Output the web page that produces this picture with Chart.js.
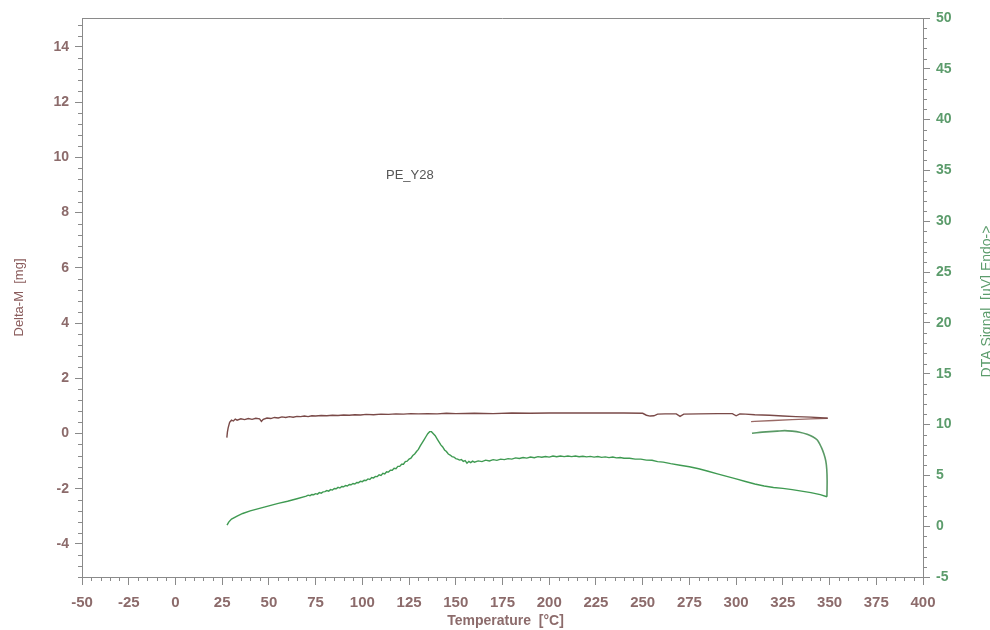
<!DOCTYPE html>
<html>
<head>
<meta charset="utf-8">
<script src="https://cdn.jsdelivr.net/npm/chart.js@4.4.1/dist/chart.umd.min.js"></script>
<style>
  html, body { margin: 0; padding: 0; background: #ffffff; }
  #wrap { width: 990px; height: 630px; position: relative; }
</style>
</head>
<body>
<div id="wrap"><canvas id="c" width="990" height="630"></canvas></div>
<script>
// ---------- DATA ----------
const xTickValues = [-50, -25, 0, 25, 50, 75, 100, 125, 150, 175, 200, 225, 250, 275, 300, 325, 350, 375, 400];
const leftTickValues = [-4, -2, 0, 2, 4, 6, 8, 10, 12, 14];
const rightTickValues = [-5, 0, 5, 10, 15, 20, 25, 30, 35, 40, 45, 50];

// Delta-M (mg), heating
const massHeatTemp = [
  27.5, 27.8, 28.2, 29, 30, 31, 32, 33, 35, 37,
  39, 41, 43, 45, 46, 47, 49, 51, 53, 55,
  57, 59, 61, 63, 65, 67, 69, 71, 73, 75,
  78, 81, 84, 87, 90, 93, 96, 99, 102, 106,
  110, 114, 118, 122, 126, 130, 135, 140, 145, 150,
  160, 170, 180, 190, 200, 215, 225, 240, 250, 252,
  254, 256, 258, 262, 268, 270, 272, 280, 290, 298,
  300, 302, 305, 310, 318, 325, 332, 340, 345, 349];
const massHeat = [
  -0.15, 0.05, 0.2, 0.4, 0.48, 0.45, 0.52, 0.48, 0.53, 0.5,
  0.54, 0.51, 0.55, 0.53, 0.44, 0.51, 0.56, 0.54, 0.58, 0.56,
  0.6, 0.58, 0.61, 0.59, 0.62, 0.61, 0.63, 0.61, 0.64, 0.63,
  0.65, 0.64, 0.66, 0.65, 0.67, 0.66, 0.68, 0.67, 0.69, 0.68,
  0.7, 0.69, 0.71, 0.7, 0.72, 0.71, 0.72, 0.71, 0.73, 0.72,
  0.73, 0.72, 0.74, 0.73, 0.74, 0.74, 0.74, 0.74, 0.73, 0.66,
  0.63, 0.64, 0.7, 0.71, 0.71, 0.62, 0.7, 0.71, 0.72, 0.72,
  0.64, 0.71, 0.7, 0.68, 0.66, 0.63, 0.61, 0.59, 0.57, 0.55];
// Delta-M (mg), cooling back
const massCoolTemp = [349, 340, 330, 320, 310, 308];
const massCool = [0.55, 0.53, 0.5, 0.47, 0.44, 0.43];

// DTA signal (uV), heating
const dtaHeatTemp = [
  27.6, 28.5, 30, 33, 36, 40, 45, 50, 55, 60,
  65, 70, 71, 72, 73, 74, 75, 76, 77, 78,
  79, 80, 81, 82, 83, 84, 85, 86, 87, 88,
  89, 90, 91, 92, 93, 94, 95, 96, 97, 98,
  99, 100, 101, 102, 103, 104, 105, 106, 107, 108,
  109, 110, 111, 112, 113, 114, 115, 116, 117, 118,
  119, 120, 121, 122, 123, 124, 125, 126, 127, 128,
  129, 130, 131, 132, 133, 134, 135, 136, 137, 138,
  139, 140, 141, 142, 143, 144, 145, 146, 147, 148,
  149, 150, 151, 152, 153, 154, 155, 156, 157, 158,
  159, 160, 162, 164, 166, 168, 170, 172, 174, 176,
  178, 180, 182, 184, 186, 188, 190, 192, 194, 196,
  198, 200, 202, 204, 206, 208, 210, 212, 214, 216,
  218, 220, 222, 224, 226, 228, 230, 232, 234, 236,
  238, 240, 243, 246, 249, 252, 255, 258, 261, 265,
  270, 275, 280, 285, 290, 295, 300, 305, 310, 315,
  320, 325, 330, 335, 340, 345, 348.6];
const dtaHeat = [
  0.1, 0.4, 0.7, 1.0, 1.25, 1.5, 1.75, 2.0, 2.25, 2.45,
  2.7, 2.95, 3.05, 3.0, 3.12, 3.1, 3.2, 3.15, 3.3, 3.25,
  3.38, 3.4, 3.5, 3.45, 3.6, 3.55, 3.7, 3.68, 3.82, 3.75,
  3.9, 3.88, 4.0, 3.95, 4.1, 4.08, 4.2, 4.15, 4.3, 4.28,
  4.42, 4.38, 4.52, 4.5, 4.65, 4.6, 4.78, 4.75, 4.9, 4.88,
  5.05, 5.0, 5.2, 5.15, 5.35, 5.32, 5.5, 5.5, 5.7, 5.65,
  5.88, 5.88, 6.1, 6.1, 6.35, 6.4, 6.6, 6.7, 6.95, 7.1,
  7.35, 7.55, 7.9, 8.2, 8.5, 8.8, 9.1, 9.3, 9.3, 9.1,
  8.9, 8.6, 8.3, 8.0, 7.8, 7.5, 7.35, 7.1, 7.0, 6.85,
  6.8, 6.65, 6.6, 6.5, 6.55, 6.38, 6.45, 6.2, 6.38, 6.25,
  6.4, 6.3, 6.42, 6.35, 6.5, 6.42, 6.55, 6.48, 6.6, 6.55,
  6.65, 6.6, 6.72, 6.66, 6.75, 6.7, 6.8, 6.74, 6.84, 6.78,
  6.86, 6.8, 6.9, 6.83, 6.9, 6.84, 6.9, 6.84, 6.9, 6.83,
  6.88, 6.82, 6.87, 6.8, 6.85, 6.77, 6.82, 6.75, 6.8, 6.72,
  6.76, 6.68, 6.68, 6.6, 6.6, 6.5, 6.48, 6.35, 6.3, 6.15,
  6.0, 5.85, 5.65, 5.4, 5.15, 4.9, 4.65, 4.4, 4.15, 3.95,
  3.8, 3.72, 3.6, 3.45, 3.3, 3.1, 2.9];
// DTA signal (uV), cooling back
const dtaCoolTemp = [348.6, 348.7, 348.5, 348, 347, 345.5, 343.3, 340.5, 338, 334, 330, 326, 322, 318, 314, 311, 308.5];
const dtaCool = [2.9, 4.5, 5.6, 6.4, 7.1, 7.8, 8.5, 8.85, 9.05, 9.25, 9.35, 9.4, 9.35, 9.3, 9.25, 9.2, 9.15];

// ---------- STYLE ----------
const MASS_COLOR = '#7a4a48';
const DTA_COLOR = '#3f9a52';
const BROWN_TEXT = '#8c6b6b';
const GREEN_TEXT = '#5c9c6c';
const AXIS_COLOR = '#8a8a8a';
const FONT = '"Liberation Sans", Arial, sans-serif';

function pts(xs, ys) { return xs.map((x, i) => ({ x: x, y: ys[i] })); }

const decorPlugin = {
  id: 'decor',
  afterDraw(chart) {
    const ctx = chart.ctx;
    const a = chart.chartArea;
    const sx = chart.scales.x, sl = chart.scales.yLeft, sr = chart.scales.yRight;
    ctx.save();
    // top frame line
    ctx.strokeStyle = AXIS_COLOR;
    ctx.lineWidth = 1;
    ctx.beginPath();
    ctx.moveTo(a.left, a.top + 0.5);
    ctx.lineTo(a.right, a.top + 0.5);
    ctx.stroke();
    // minor ticks
    ctx.beginPath();
    for (let v = -50; v <= 400; v += 5) {
      if (v % 25 === 0) continue;
      const px = Math.round(sx.getPixelForValue(v)) + 0.5;
      ctx.moveTo(px, a.bottom); ctx.lineTo(px, a.bottom + 4);
    }
    for (let k = -13; k <= 37; k++) {
      const v = k * 0.4;
      if (k % 5 === 0) continue;
      if (v < sl.min || v > sl.max) continue;
      const py = Math.round(sl.getPixelForValue(v)) + 0.5;
      ctx.moveTo(a.left, py); ctx.lineTo(a.left - 4, py);
    }
    for (let v = -5; v <= 50; v += 1) {
      if (v % 5 === 0) continue;
      const py = Math.round(sr.getPixelForValue(v)) + 0.5;
      ctx.moveTo(a.right, py); ctx.lineTo(a.right + 4, py);
    }
    ctx.stroke();

    // axis titles
    ctx.textAlign = 'center';
    ctx.textBaseline = 'middle';
    ctx.fillStyle = BROWN_TEXT;
    ctx.font = 'bold 14px ' + FONT;
    ctx.fillText('Temperature  [°C]', (a.left + a.right) / 2 + 3, 621);

    ctx.save();
    ctx.translate(19, (a.top + a.bottom) / 2);
    ctx.rotate(-Math.PI / 2);
    ctx.fillStyle = '#8a5c5c';
    ctx.font = '13px ' + FONT;
    ctx.fillText('Delta-M  [mg]', 0, 0);
    ctx.restore();

    ctx.save();
    ctx.translate(987, (a.top + a.bottom) / 2 + 4);
    ctx.rotate(-Math.PI / 2);
    ctx.fillStyle = GREEN_TEXT;
    ctx.font = '14px ' + FONT;
    ctx.fillText('DTA Signal  [uV] Endo->', 0, 0);
    ctx.restore();

    // sample name
    ctx.textAlign = 'left';
    ctx.fillStyle = '#555555';
    ctx.font = '13px ' + FONT;
    ctx.fillText('PE_Y28', 386, 175);
    ctx.restore();
  }
};

new Chart(document.getElementById('c'), {
  type: 'line',
  data: {
    datasets: [
      { label: 'Delta-M heating', data: pts(massHeatTemp, massHeat), yAxisID: 'yLeft',
        borderColor: MASS_COLOR, borderWidth: 1.4, pointRadius: 0, tension: 0, fill: false },
      { label: 'Delta-M cooling', data: pts(massCoolTemp, massCool), yAxisID: 'yLeft',
        borderColor: '#9a6a66', borderWidth: 1.3, pointRadius: 0, tension: 0, fill: false },
      { label: 'DTA heating', data: pts(dtaHeatTemp, dtaHeat), yAxisID: 'yRight',
        borderColor: DTA_COLOR, borderWidth: 1.4, pointRadius: 0, tension: 0, fill: false },
      { label: 'DTA cooling', data: pts(dtaCoolTemp, dtaCool), yAxisID: 'yRight',
        borderColor: '#5a9a66', borderWidth: 1.6, pointRadius: 0, tension: 0.3, fill: false }
    ]
  },
  options: {
    responsive: false,
    animation: false,
    parsing: true,
    layout: { padding: { top: 18, left: 0, right: 0, bottom: 0 } },
    plugins: { legend: { display: false }, tooltip: { enabled: false } },
    scales: {
      x: {
        type: 'linear', position: 'bottom', min: -50, max: 400,
        afterBuildTicks(s) { s.ticks = xTickValues.map(v => ({ value: v })); },
        afterFit(s) { s.height = 53; },
        grid: { drawOnChartArea: false, drawTicks: true, tickLength: 8, tickColor: AXIS_COLOR },
        border: { display: true, color: AXIS_COLOR, width: 1 },
        ticks: { color: BROWN_TEXT, font: { family: FONT, size: 15, weight: 'bold' }, padding: 9, maxRotation: 0, autoSkip: false }
      },
      yLeft: {
        type: 'linear', position: 'left', min: -5.2, max: 15.05,
        afterBuildTicks(s) { s.ticks = leftTickValues.map(v => ({ value: v })); },
        afterFit(s) { s.width = 82; },
        grid: { drawOnChartArea: false, drawTicks: true, tickLength: 7, tickColor: AXIS_COLOR },
        border: { display: true, color: AXIS_COLOR, width: 1 },
        ticks: { color: BROWN_TEXT, font: { family: FONT, size: 14, weight: 'bold' }, padding: 6, autoSkip: false }
      },
      yRight: {
        type: 'linear', position: 'right', min: -5, max: 50,
        afterBuildTicks(s) { s.ticks = rightTickValues.map(v => ({ value: v })); },
        afterFit(s) { s.width = 67; },
        grid: { drawOnChartArea: false, drawTicks: true, tickLength: 7, tickColor: AXIS_COLOR },
        border: { display: true, color: AXIS_COLOR, width: 1 },
        ticks: { color: GREEN_TEXT, font: { family: FONT, size: 14, weight: 'bold' }, padding: 6, autoSkip: false }
      }
    }
  },
  plugins: [decorPlugin]
});
</script>
</body>
</html>
